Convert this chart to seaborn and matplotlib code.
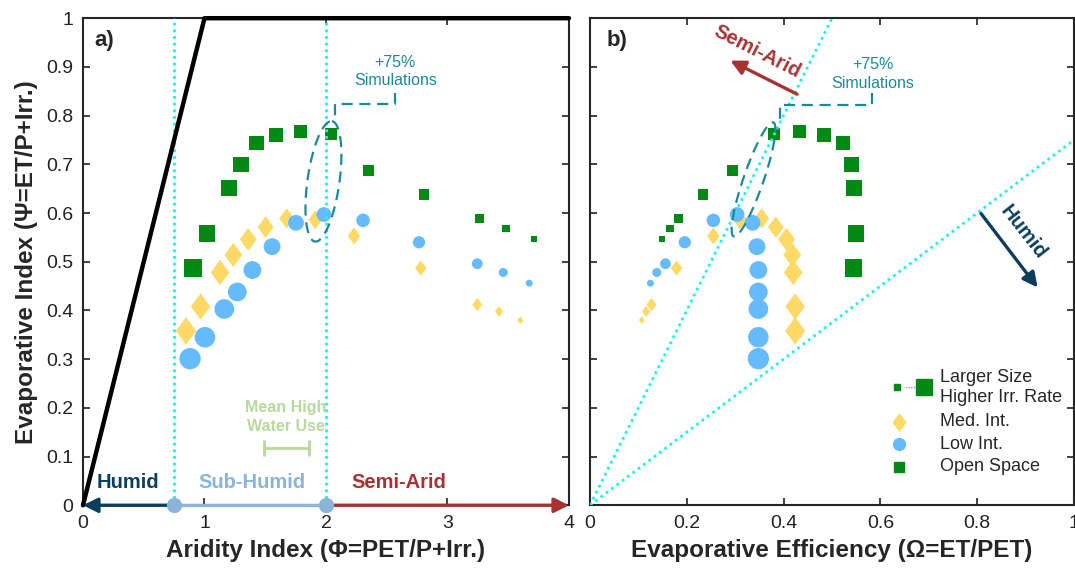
import numpy as np
import matplotlib
matplotlib.use('Agg')
from matplotlib import pyplot as plt
from matplotlib.path import Path
import seaborn as sns

# irrigation rate rank (13 = highest rate -> largest marker)
irr_level = [13, 12, 11, 10, 9, 8, 7, 6, 5, 4, 3, 2, 1]

# aridity index (phi) and evaporative index (psi) for each land class
phi_open = [0.905, 1.02, 1.20, 1.30, 1.43, 1.59, 1.79, 2.04, 2.35, 2.81, 3.26, 3.48, 3.71]
psi_open = [0.487, 0.558, 0.652, 0.699, 0.744, 0.761, 0.767, 0.763, 0.687, 0.638, 0.589, 0.568, 0.546]
phi_med = [0.848, 0.968, 1.128, 1.237, 1.36, 1.503, 1.676, 1.912, 2.23, 2.78, 3.245, 3.424, 3.60]
psi_med = [0.358, 0.408, 0.478, 0.514, 0.546, 0.571, 0.589, 0.586, 0.553, 0.487, 0.412, 0.398, 0.380]
phi_low = [0.881, 1.004, 1.163, 1.27, 1.394, 1.556, 1.753, 1.983, 2.305, 2.765, 3.245, 3.459, 3.673]
psi_low = [0.301, 0.345, 0.403, 0.438, 0.483, 0.531, 0.580, 0.597, 0.585, 0.540, 0.496, 0.478, 0.456]

# evaporative efficiency (omega)
omega_open = [0.545, 0.550, 0.545, 0.540, 0.523, 0.483, 0.432, 0.380, 0.295, 0.233, 0.182, 0.165, 0.149]
omega_med = [0.424, 0.424, 0.420, 0.418, 0.406, 0.384, 0.355, 0.310, 0.255, 0.179, 0.127, 0.116, 0.107]
omega_low = [0.348, 0.348, 0.348, 0.348, 0.348, 0.345, 0.336, 0.304, 0.255, 0.196, 0.156, 0.138, 0.125]

# climate boundaries (aridity index)
phi_humid = 0.75
phi_semiarid = 2.0
mean_high_use = [1.49, 1.86]

xticks_a = [0, 1, 2, 3, 4]
xticks_b = [0, 0.2, 0.4, 0.6, 0.8, 1]
xticklabels_b = ['0', '0.2', '0.4', '0.6', '0.8', '1']
yticks = [0, 0.1, 0.2, 0.3, 0.4, 0.5, 0.6, 0.7, 0.8, 0.9, 1]
yticklabels = ['0', '0.1', '0.2', '0.3', '0.4', '0.5', '0.6', '0.7', '0.8', '0.9', '1']

green = '#008a14'
yellow = '#ffd966'
blue = '#66bbff'
navy = '#0b3d5e'
darkred = '#a83232'
lightblue = '#8ab4d8'
cyan = '#1ef0f0'
teal = '#1a8a9a'
lightgreen = '#b8d89c'

sns.set_style('ticks')
plt.rcParams['font.family'] = ['Liberation Sans', 'DejaVu Sans']

diamond = Path([(0, 1), (0.74, 0), (0, -1), (-0.74, 0), (0, 1)],
               [Path.MOVETO, Path.LINETO, Path.LINETO, Path.LINETO, Path.CLOSEPOLY])

fig = plt.figure(figsize=(10.75, 5.69), dpi=100)
ax1 = fig.add_axes([0.0772, 0.112, 0.4521, 0.856])
ax2 = fig.add_axes([0.5488, 0.112, 0.4502, 0.856])


def draw_points(ax, x_open, x_med, x_low):
    sns.scatterplot(x=x_open, y=psi_open, size=irr_level, sizes=(19, 155), marker='s',
                    color=green, linewidth=0, legend=False, ax=ax, zorder=3)
    sns.scatterplot(x=x_med, y=psi_med, size=irr_level, sizes=(33, 390), marker=diamond,
                    color=yellow, linewidth=0, legend=False, ax=ax, zorder=3)
    sns.scatterplot(x=x_low, y=psi_low, size=irr_level, sizes=(25, 235), marker='o',
                    color=blue, linewidth=0, legend=False, ax=ax, zorder=3)


def dashed_ellipse(ax, cx, cy, a, b, tilt, sx, sy):
    t = np.linspace(0, 2 * np.pi, 200)
    th = np.radians(tilt)
    dx = a * np.cos(t) * np.sin(th) + b * np.sin(t) * np.cos(th)
    dy = a * np.cos(t) * np.cos(th) - b * np.sin(t) * np.sin(th)
    ax.plot(cx + dx / sx, cy + dy / sy, color=teal, lw=1.6, ls=(0, (5, 3)), zorder=4)


def style_axes(ax):
    ax.tick_params(direction='in', top=True, right=True, length=5, width=1.2,
                   labelsize=14, colors='#222222', pad=7)
    for s in ax.spines.values():
        s.set_linewidth(1.5)
        s.set_color('#262626')


# ---------------- panel a ----------------
draw_points(ax1, phi_open, phi_med, phi_low)
ax1.plot([0, 1, 4], [0, 1, 1], color='black', lw=3.2, zorder=5, clip_on=False)
for xv in [phi_humid, phi_semiarid]:
    ax1.plot([xv, xv], [0, 1], color=cyan, lw=2, ls=(0, (1, 1.4)), zorder=4)

# bottom climate arrows
ax1.annotate('', xy=(0, 0), xytext=(phi_humid, 0), annotation_clip=False,
             arrowprops=dict(arrowstyle='-|>', color=navy, lw=2.4, mutation_scale=22,
                             shrinkA=0, shrinkB=0), zorder=6)
ax1.annotate('', xy=(4, 0), xytext=(phi_semiarid, 0), annotation_clip=False,
             arrowprops=dict(arrowstyle='-|>', color=darkred, lw=2.4, mutation_scale=22,
                             shrinkA=0, shrinkB=0), zorder=6)
ax1.plot([phi_humid, phi_semiarid], [0, 0], color=lightblue, lw=2.4, marker='o',
         markersize=10, clip_on=False, zorder=7)
ax1.text(0.37, 0.046, 'Humid', color=navy, fontsize=14.5, fontweight='bold', ha='center', va='center')
ax1.text(1.39, 0.046, 'Sub-Humid', color=lightblue, fontsize=14.5, fontweight='bold', ha='center', va='center')
ax1.text(2.6, 0.046, 'Semi-Arid', color=darkred, fontsize=14.5, fontweight='bold', ha='center', va='center')

# mean high water use bar
ax1.errorbar([np.mean(mean_high_use)], [0.117], xerr=[(mean_high_use[1] - mean_high_use[0]) / 2],
             color=lightgreen, lw=2, capsize=6, capthick=2, zorder=4)
ax1.text(1.67, 0.2, 'Mean High', color=lightgreen, fontsize=11.5, fontweight='bold', ha='center', va='center')
ax1.text(1.67, 0.162, 'Water Use', color=lightgreen, fontsize=11.5, fontweight='bold', ha='center', va='center')

# +75% simulations
dashed_ellipse(ax1, 1.979, 0.665, 61, 16, 8, 121.5, 489)
ax1.plot([2.568, 2.568, 2.074, 2.074], [0.847, 0.823, 0.823, 0.795], color=teal, lw=1.6,
         ls=(0, (5, 3)), zorder=4)
ax1.text(2.57, 0.909, '+75%', color=teal, fontsize=11.5, ha='center', va='center')
ax1.text(2.57, 0.872, 'Simulations', color=teal, fontsize=11.5, ha='center', va='center')

ax1.text(0.09, 0.955, 'a)', fontsize=16, fontweight='bold', ha='left', va='center')
ax1.set_xlim(0, 4)
ax1.set_ylim(0, 1)
ax1.set_xticks(xticks_a)
ax1.set_yticks(yticks)
ax1.set_yticklabels(yticklabels)
ax1.set_xlabel('Aridity Index (\u03a6=PET/P+Irr.)', fontsize=17.5, fontweight='bold', labelpad=5)
ax1.set_ylabel('Evaporative Index (\u03a8=ET/P+Irr.)', fontsize=17.5, fontweight='bold', labelpad=6)
style_axes(ax1)

# ---------------- panel b ----------------
draw_points(ax2, omega_open, omega_med, omega_low)
for slope in [phi_semiarid, phi_humid]:
    ax2.plot([0, 1], [0, slope], color=cyan, lw=2, ls=(0, (1, 1.4)), zorder=4)

ax2.annotate('', xy=(0.29, 0.913), xytext=(0.428, 0.844),
             arrowprops=dict(arrowstyle='-|>', color=darkred, lw=2.4, mutation_scale=22,
                             shrinkA=0, shrinkB=0), zorder=6)
ax2.text(0.345, 0.932, 'Semi-Arid', color=darkred, fontsize=14.5, fontweight='bold',
         rotation=-27, ha='center', va='center', rotation_mode='anchor')
ax2.annotate('', xy=(0.925, 0.447), xytext=(0.808, 0.599),
             arrowprops=dict(arrowstyle='-|>', color=navy, lw=2.4, mutation_scale=22,
                             shrinkA=0, shrinkB=0), zorder=6)
ax2.text(0.895, 0.56, 'Humid', color=navy, fontsize=14.5, fontweight='bold',
         rotation=-52, ha='center', va='center', rotation_mode='anchor')

dashed_ellipse(ax2, 0.338, 0.669, 60.6, 10, 19, 484, 489)
ax2.plot([0.583, 0.583, 0.392, 0.392], [0.847, 0.822, 0.822, 0.79], color=teal, lw=1.6,
         ls=(0, (5, 3)), zorder=4)
ax2.text(0.585, 0.904, '+75%', color=teal, fontsize=11.5, ha='center', va='center')
ax2.text(0.585, 0.866, 'Simulations', color=teal, fontsize=11.5, ha='center', va='center')

# legend
tr = ax2.transAxes
ax2.plot([0.651, 0.672], [0.242, 0.242], color='#999999', lw=1, ls=(0, (1, 1)), transform=tr)
ax2.plot([0.635], [0.242], marker='s', markersize=4.3, color=green, transform=tr, ls='none')
ax2.plot([0.691], [0.242], marker='s', markersize=12.2, color=green, transform=tr, ls='none')
ax2.text(0.723, 0.242, 'Larger Size\nHigher Irr. Rate', fontsize=13, transform=tr,
         ha='left', va='center', linespacing=1.2)
ax2.plot([0.638], [0.171], marker=diamond, markersize=12, color=yellow, transform=tr, ls='none')
ax2.text(0.723, 0.171, 'Med. Int.', fontsize=13, transform=tr, ha='left', va='center')
ax2.plot([0.638], [0.125], marker='o', markersize=8.5, color=blue, transform=tr, ls='none')
ax2.text(0.723, 0.125, 'Low Int.', fontsize=13, transform=tr, ha='left', va='center')
ax2.plot([0.638], [0.079], marker='s', markersize=7.5, color=green, transform=tr, ls='none')
ax2.text(0.723, 0.079, 'Open Space', fontsize=13, transform=tr, ha='left', va='center')

ax2.text(0.035, 0.955, 'b)', fontsize=16, fontweight='bold', ha='left', va='center', transform=tr)
ax2.set_xlim(0, 1)
ax2.set_ylim(0, 1)
ax2.set_xticks(xticks_b)
ax2.set_xticklabels(xticklabels_b)
ax2.set_yticks(yticks)
ax2.set_yticklabels([])
ax2.set_xlabel('Evaporative Efficiency (\u03a9=ET/PET)', fontsize=17.5, fontweight='bold', labelpad=5)
style_axes(ax2)

fig.savefig('out.png', dpi=100)
plt.close()
